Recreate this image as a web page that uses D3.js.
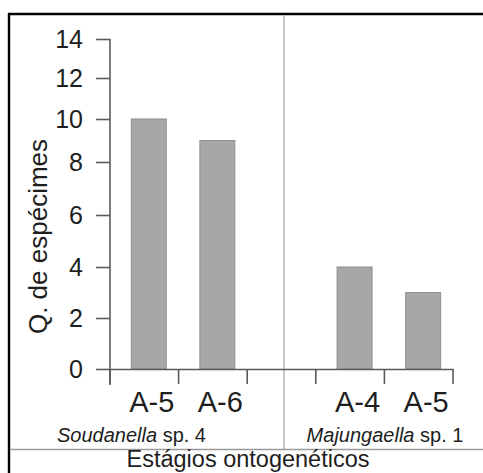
<!DOCTYPE html>
<html>
<head>
<meta charset="utf-8">
<script src="https://cdn.jsdelivr.net/npm/d3@7"></script>
<style>
  html, body { margin: 0; padding: 0; background: #fff; }
  svg { display: block; font-family: "Liberation Sans", Arial, sans-serif; }
</style>
</head>
<body>
<svg id="chart" width="483" height="473"></svg>
<script>
// ---- data ----
const slots = ["S-A-5", "S-A-6", "gap", "M-A-4", "M-A-5"];
const barKeys = ["S-A-5", "S-A-6", "M-A-4", "M-A-5"];
const barLabels = ["A-5", "A-6", "A-4", "A-5"];
const barValues = [10, 9, 4, 3];
const yTicks = [0, 2, 4, 6, 8, 10, 12, 14];
const groups = ["Soudanella", "Majungaella"];
const groupSuffix = [" sp. 4", " sp. 1"];
const yTitle = "Q. de espécimes";
const xTitle = "Estágios ontogenéticos";

// ---- layout ----
const svg = d3.select("#chart");
const axisColor = "#5a5a5a";
const textColor = "#1e1e1e";

// y scale (piecewise to follow the reference's tick spacing)
const y = d3.scaleLinear()
  .domain(yTicks)
  .range([369, 318, 267, 215, 162, 119, 78, 39]);

const x = d3.scaleBand().domain(slots).range([110, 453]).padding(0);
const bw = x.bandwidth();

// frame
svg.append("line").attr("x1", 8).attr("x2", 483).attr("y1", 14).attr("y2", 14)
  .attr("stroke", "#000").attr("stroke-width", 2.6);
svg.append("line").attr("x1", 9).attr("x2", 9).attr("y1", 13).attr("y2", 473)
  .attr("stroke", "#000").attr("stroke-width", 2.4);

// separators
svg.append("line").attr("x1", 284).attr("x2", 284).attr("y1", 15).attr("y2", 449)
  .attr("stroke", "#a8a8a8").attr("stroke-width", 1.3);
svg.append("line").attr("x1", 10).attr("x2", 483).attr("y1", 449.5).attr("y2", 449.5)
  .attr("stroke", "#9a9a9a").attr("stroke-width", 1.3);

// bars
svg.append("g").selectAll("rect")
  .data(barKeys.map((k, i) => ({ k, v: barValues[i] })))
  .join("rect")
  .attr("x", d => x(d.k) + bw * 0.31)
  .attr("width", bw * 0.51)
  .attr("y", d => y(d.v))
  .attr("height", d => y(0) - y(d.v))
  .attr("fill", "#a7a7a7")
  .attr("stroke", "#8e8e8e")
  .attr("stroke-width", 1);

// y axis
const yAxis = d3.axisLeft(y).tickValues(yTicks).tickSize(14).tickPadding(13).tickSizeOuter(0);
const gy = svg.append("g").attr("transform", "translate(110,0)").call(yAxis);
gy.select(".domain").remove();
gy.append("line").attr("x1", 0).attr("x2", 0).attr("y1", y(14)).attr("y2", 385)
  .attr("stroke", axisColor).attr("stroke-width", 1.6);
gy.selectAll(".tick line").attr("stroke", axisColor).attr("stroke-width", 1.6);
gy.selectAll(".tick text").attr("fill", textColor)
  .style("font-size", "25px").style("font-family", "'Liberation Sans', Arial, sans-serif");

// x axis
const xAxis = d3.axisBottom(x).tickValues([]).tickSizeOuter(0);
const gx = svg.append("g").attr("transform", `translate(0,${y(0)})`).call(xAxis);
gx.select(".domain").attr("stroke", axisColor).attr("stroke-width", 1.6);
const edges = slots.map(s => x(s)).concat([x(slots[slots.length - 1]) + bw]);
gx.selectAll("line.edge").data(edges).join("line")
  .attr("class", "edge")
  .attr("x1", d => d).attr("x2", d => d).attr("y1", 0).attr("y2", 15)
  .attr("stroke", axisColor).attr("stroke-width", 1.6);

// category labels
svg.append("g").selectAll("text")
  .data(barKeys.map((k, i) => ({ k, t: barLabels[i] })))
  .join("text")
  .attr("x", d => x(d.k) + bw * 0.31 + bw * 0.255 + 3)
  .attr("y", 412)
  .attr("text-anchor", "middle")
  .attr("fill", textColor)
  .style("font-size", "29px")
  .text(d => d.t);

// group labels
const groupCenters = [131.5, 385];
groups.forEach((g, i) => {
  const t = svg.append("text")
    .attr("x", groupCenters[i]).attr("y", 442)
    .attr("text-anchor", "middle")
    .attr("fill", textColor)
    .style("font-size", "20px");
  t.append("tspan").style("font-style", "italic").text(g);
  t.append("tspan").text(groupSuffix[i]);
});

// axis titles
svg.append("text")
  .attr("transform", "translate(47,236.5) rotate(-90)")
  .attr("text-anchor", "middle")
  .attr("fill", textColor)
  .style("font-size", "26px")
  .text(yTitle);

svg.append("text")
  .attr("x", 248).attr("y", 467)
  .attr("text-anchor", "middle")
  .attr("fill", textColor)
  .style("font-size", "23.5px")
  .text(xTitle);
</script>
</body>
</html>
